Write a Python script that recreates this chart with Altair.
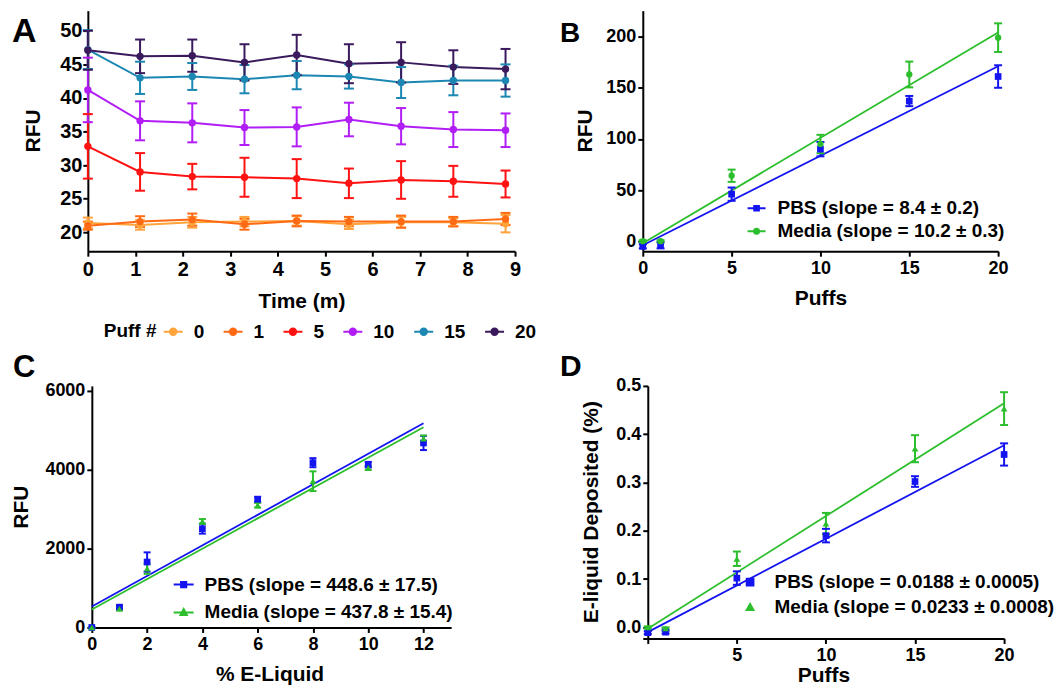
import altair as alt
import pandas as pd

FONT = "Liberation Sans"

# ---------------- Panel A ----------------
time_m = [0, 1.1, 2.2, 3.3, 4.4, 5.5, 6.6, 7.7, 8.8]
puff_levels = ["0", "1", "5", "10", "15", "20"]
puff_colors = ["#FFA33B", "#FF6A14", "#FF1212", "#B11EF5", "#1B87B2", "#3A1A5C"]
rfu_p0 = [21.4, 21.1, 21.5, 21.6, 21.7, 21.2, 21.5, 21.5, 21.3]
err_p0 = [0.8, 0.7, 0.8, 0.7, 0.7, 0.7, 0.8, 0.6, 1.3]
rfu_p1 = [21.0, 21.6, 21.9, 21.2, 21.7, 21.6, 21.6, 21.6, 22.0]
err_p1 = [0.6, 0.8, 0.9, 0.8, 0.8, 0.7, 0.9, 0.7, 0.9]
rfu_p5 = [32.8, 29.0, 28.3, 28.2, 28.0, 27.3, 27.8, 27.6, 27.2]
err_p5 = [4.8, 2.8, 1.9, 2.9, 2.9, 2.2, 2.8, 2.3, 2.0]
rfu_p10 = [41.2, 36.6, 36.3, 35.6, 35.7, 36.8, 35.8, 35.3, 35.2]
err_p10 = [4.8, 2.9, 2.9, 2.6, 2.9, 2.5, 2.7, 2.6, 2.5]
rfu_p15 = [47.2, 43.0, 43.2, 42.8, 43.4, 43.2, 42.3, 42.6, 42.6]
err_p15 = [2.9, 2.4, 2.0, 2.1, 2.1, 1.8, 2.3, 2.2, 2.4]
rfu_p20 = [47.1, 46.2, 46.3, 45.3, 46.4, 45.1, 45.3, 44.6, 44.3]
err_p20 = [2.9, 2.5, 2.4, 2.7, 3.0, 2.9, 3.0, 2.5, 3.0]

# ---------------- Panel B ----------------
b_puffs = [0, 1, 5, 10, 15, 20]
b_pbs = [-5, -4, 46, 90, 137, 161]
b_pbs_err = [2, 3, 6.5, 7, 5, 11]
b_media = [0, 0, 64, 95, 163, 199]
b_media_err = [1, 1, 6, 9, 12.6, 14]
b_fit_x = [0, 20]
b_fit_pbs = [-4, 171]
b_fit_media = [-2, 204]
b_labels = ["PBS (slope = 8.4 \u00b1 0.2)", "Media (slope = 10.2 \u00b1 0.3)"]

# ---------------- Panel C ----------------
c_pct = [0, 1, 2, 4, 6, 8, 10, 12]
c_pbs = [0, 516, 1660, 2505, 3250, 4180, 4130, 4680]
c_pbs_err = [0, 40, 245, 125, 65, 115, 70, 180]
c_media = [0, 474, 1490, 2690, 3100, 3710, 4045, 4790]
c_media_err = [0, 30, 130, 60, 60, 250, 50, 80]
c_fit_x = [0, 12]
c_fit_pbs = [533, 5180]
c_fit_media = [457, 5078]
c_labels = ["PBS (slope = 448.6 \u00b1 17.5)", "Media (slope = 437.8 \u00b1 15.4)"]

# ---------------- Panel D ----------------
d_puffs = [0, 1, 5, 10, 15, 20]
d_pbs = [-0.011, -0.010, 0.102, 0.190, 0.302, 0.358]
d_pbs_err = [0.003, 0.003, 0.014, 0.014, 0.011, 0.023]
d_media = [0.0, -0.002, 0.142, 0.215, 0.370, 0.453]
d_media_err = [0.002, 0.002, 0.015, 0.022, 0.028, 0.034]
d_fit_x = [0, 20]
d_fit_pbs = [-0.010, 0.377]
d_fit_media = [-0.003, 0.464]
d_labels = ["PBS (slope = 0.0188 \u00b1 0.0005)", "Media (slope = 0.0233 \u00b1 0.0008)"]

series = ["PBS", "Media"]
series_colors = ["#1414F0", "#2DBE2D"]

# ---------- frames ----------
rows = []
for lvl, m, e in zip(puff_levels,
                     [rfu_p0, rfu_p1, rfu_p5, rfu_p10, rfu_p15, rfu_p20],
                     [err_p0, err_p1, err_p5, err_p10, err_p15, err_p20]):
    for t, v, s in zip(time_m, m, e):
        rows.append({"x": t, "g": lvl, "y": v, "lo": v - s, "hi": v + s})
df_a = pd.DataFrame(rows)


def series_frame(xs, pbs, pbs_err, media, media_err):
    r = []
    for name, vals, errs in [("PBS", pbs, pbs_err), ("Media", media, media_err)]:
        for x, v, s in zip(xs, vals, errs):
            r.append({"x": x, "g": name, "y": v, "lo": v - s, "hi": v + s})
    return pd.DataFrame(r)


def fit_frame(xs, pbs, media):
    r = []
    for name, vals in [("PBS", pbs), ("Media", media)]:
        for x, v in zip(xs, vals):
            r.append({"x": x, "g": name, "y": v})
    return pd.DataFrame(r)


df_b = series_frame(b_puffs, b_pbs, b_pbs_err, b_media, b_media_err)
df_c = series_frame(c_pct, c_pbs, c_pbs_err, c_media, c_media_err)
df_d = series_frame(d_puffs, d_pbs, d_pbs_err, d_media, d_media_err)
fit_b = fit_frame(b_fit_x, b_fit_pbs, b_fit_media)
fit_c = fit_frame(c_fit_x, c_fit_pbs, c_fit_media)
fit_d = fit_frame(d_fit_x, d_fit_pbs, d_fit_media)

LINE_CIRCLE = "M-1,0H1M-0.34,0A0.34,0.34,0,1,1,0.34,0A0.34,0.34,0,1,1,-0.34,0Z"
LINE_SQUARE = "M-1,0H1M-0.26,-0.26H0.26V0.26H-0.26Z"
LINE_CIRC_B = "M-1,0H1M-0.28,0A0.28,0.28,0,1,1,0.28,0A0.28,0.28,0,1,1,-0.28,0Z"
LINE_TRI = "M-1,0H1M0,-0.34L0.32,0.24H-0.32Z"


def letter(ch, dx, dy, size):
    return alt.Chart(pd.DataFrame({"t": [ch]})).mark_text(
        align="left", baseline="alphabetic", font=FONT, fontWeight="bold",
        fontSize=size, color="black").encode(text="t:N", x=alt.value(dx), y=alt.value(dy))


def axis(title, values, tx, ty, lsize, tsize, orient, fmt=None, label_expr=None, offset=None, lpad=2):
    kw = dict(title=title, values=values, titleX=tx, titleY=ty, labelFontSize=lsize,
              titleFontSize=tsize, titleBaseline="middle", labelFlush=False,
              labelOverlap=False, labelPadding=lpad, titleAlign="center")
    if orient == "left":
        kw["titleAngle"] = -90
    if fmt:
        kw["format"] = fmt
    if label_expr:
        kw["labelExpr"] = label_expr
    if offset is not None:
        kw["offset"] = offset
    return alt.Axis(**kw)


def build_panel(df, fit, xdom, ydom, xax, yax, color_enc, shape_legend, pbs_mark, media_mark,
                cap, width, height, let):
    xs = alt.Scale(domain=xdom, nice=False, zero=False)
    ys = alt.Scale(domain=ydom, nice=False, zero=False)
    X = alt.X("x:Q", scale=xs, axis=xax)

    def Y(f):
        return alt.Y(f + ":Q", scale=ys, axis=yax)

    layers = []
    if shape_legend is not None:
        layers.append(alt.Chart(df).mark_point(filled=True, opacity=1, size=10)
                      .transform_filter("datum.x < -999")
                      .encode(x=X, y=Y("y"), color=color_enc, shape=shape_legend))
    if fit is not None:
        layers.append(alt.Chart(fit).mark_line(strokeWidth=1.8)
                      .encode(x=X, y=Y("y"), color=color_enc))
    else:
        layers.append(alt.Chart(df).mark_line(strokeWidth=2)
                      .encode(x=X, y=Y("y"), color=color_enc))
    layers.append(alt.Chart(df).mark_rule(strokeWidth=2)
                  .encode(x=X, y=Y("lo"), y2="hi:Q", color=color_enc))
    layers.append(alt.Chart(df).mark_tick(orient="horizontal", size=cap, thickness=2, opacity=1)
                  .transform_fold(["lo", "hi"], as_=["end", "v"])
                  .encode(x=X, y=Y("v"), color=color_enc))
    if pbs_mark is None:
        layers.append(alt.Chart(df).mark_circle(size=55, opacity=1)
                      .encode(x=X, y=Y("y"), color=color_enc))
    else:
        layers.append(alt.Chart(df).transform_filter("datum.g == 'PBS'")
                      .mark_point(filled=True, opacity=1, **pbs_mark)
                      .encode(x=X, y=Y("y"), color=color_enc))
        layers.append(alt.Chart(df).transform_filter("datum.g == 'Media'")
                      .mark_point(filled=True, opacity=1, **media_mark)
                      .encode(x=X, y=Y("y"), color=color_enc))
    layers.append(let)
    return alt.layer(*layers).properties(width=width, height=height)


def legend_common(**kw):
    base = dict(orient="none", padding=0, labelFont=FONT, labelFontWeight="bold",
                labelColor="black", labelFontSize=19, symbolStrokeWidth=2, title=None,
                symbolOpacity=1, labelLimit=600)
    base.update(kw)
    return alt.Legend(**base)


def lab_expr(labels):
    return "datum.label == 'PBS' ? '%s' : '%s'" % (labels[0], labels[1])


# ---- A ----
colA = alt.Color("g:N", scale=alt.Scale(domain=puff_levels, range=puff_colors),
                 legend=alt.Legend(orient="none", legendX=16, legendY=311, direction="horizontal",
                                   columns=6, title="Puff #", titleOrient="left",
                                   titleFont=FONT, titleFontSize=19, titleFontWeight="bold",
                                   titleColor="black", titlePadding=6, titleBaseline="middle",
                                   labelFont=FONT, labelFontSize=19, labelFontWeight="bold",
                                   labelColor="black", labelOffset=10, columnPadding=15,
                                   symbolType=LINE_CIRCLE, symbolSize=361, symbolStrokeWidth=2,
                                   padding=0, symbolOpacity=1))
panelA = build_panel(
    df_a, None, [0, 9], [17.2, 53],
    axis("Time (m)", list(range(10)), 214, 50, 20, 21, "bottom", lpad=3),
    axis("RFU", [20, 25, 30, 35, 40, 45, 50], -54, 120, 20, 21, "left", lpad=1),
    colA, None, None, None, 10, 428, 241, letter("A", -76, 31, 34))

# ---- B ----
legB = dict(legendX=104, legendY=188, labelExpr=lab_expr(b_labels),
            symbolSize=324, labelOffset=11, rowPadding=3)
colB = alt.Color("g:N", scale=alt.Scale(domain=series, range=series_colors),
                 legend=legend_common(**legB))
shapeB = alt.Shape("g:N", scale=alt.Scale(domain=series, range=[LINE_SQUARE, LINE_CIRC_B]),
                   legend=legend_common(**legB))
panelB = build_panel(
    df_b, fit_b, [0, 20], [-9.75, 225.4],
    axis("Puffs", [0, 5, 10, 15, 20], 178, 47, 18, 21, "bottom", lpad=3),
    axis("RFU", [0, 50, 100, 150, 200], -57, 120, 18, 21, "left", lpad=2),
    colB, shapeB, {"shape": "square", "size": 45}, {"shape": "circle", "size": 40},
    8, 356, 241, letter("B", -83, 31, 28))

# ---- C ----
legC = dict(legendX=85, legendY=188, labelExpr=lab_expr(c_labels),
            symbolSize=400, labelOffset=10, rowPadding=7)
colC = alt.Color("g:N", scale=alt.Scale(domain=series, range=series_colors),
                 legend=legend_common(**legC))
shapeC = alt.Shape("g:N", scale=alt.Scale(domain=series, range=[LINE_SQUARE, LINE_TRI]),
                   legend=legend_common(**legC))
panelC = build_panel(
    df_c, fit_c, [-0.144, 13], [0, 6127],
    axis("% E-Liquid", [0, 2, 4, 6, 8, 10, 12], 182, 47, 18, 21, "bottom", lpad=3),
    axis("RFU", [0, 2000, 4000, 6000], -70, 121, 18, 21, "left", fmt="d", offset=-4, lpad=2),
    colC, shapeC, {"shape": "square", "size": 45}, {"shape": "triangle-up", "size": 45},
    7, 364, 242, letter("C", -75, -9, 31))

# ---- D ----
legD = dict(legendX=98, legendY=187, labelExpr=lab_expr(d_labels),
            symbolSize=45, labelOffset=15, rowPadding=5)
colD = alt.Color("g:N", scale=alt.Scale(domain=series, range=series_colors),
                 legend=legend_common(**legD))
shapeD = alt.Shape("g:N", scale=alt.Scale(domain=series, range=["square", "triangle-up"]),
                   legend=legend_common(**legD))
panelD = build_panel(
    df_d, fit_d, [-0.28, 20], [-0.023, 0.5],
    axis("Puffs", [0, 5, 10, 15, 20], 181, 37, 18, 21, "bottom",
         label_expr="datum.value == 0 ? '' : datum.label", lpad=3),
    axis("E-liquid Deposited (%)", [0, 0.1, 0.2, 0.3, 0.4, 0.5], -56, 126, 18, 21, "left",
         fmt=".1f", offset=-5, lpad=2),
    colD, shapeD, {"shape": "square", "size": 45}, {"shape": "triangle-up", "size": 45},
    8, 362, 253, letter("D", -83, -10, 30))

chart = alt.concat(
    panelA, panelB, panelC, panelD, columns=2,
    spacing={"row": 135, "column": 128}, bounds="flush", align="each",
).resolve_scale(color="independent", shape="independent", x="independent", y="independent"
).properties(padding={"left": 3, "top": 2, "right": 0, "bottom": 0}
).configure_view(stroke=None
).configure_axis(domainColor="black", domainWidth=2, tickColor="black", tickWidth=2,
                 tickSize=5, grid=False, labelFont=FONT, labelFontWeight="bold",
                 labelColor="black", titleFont=FONT, titleFontWeight="bold", titleColor="black")

chart.save("out.html", embed_options={"renderer": "svg", "actions": False})
